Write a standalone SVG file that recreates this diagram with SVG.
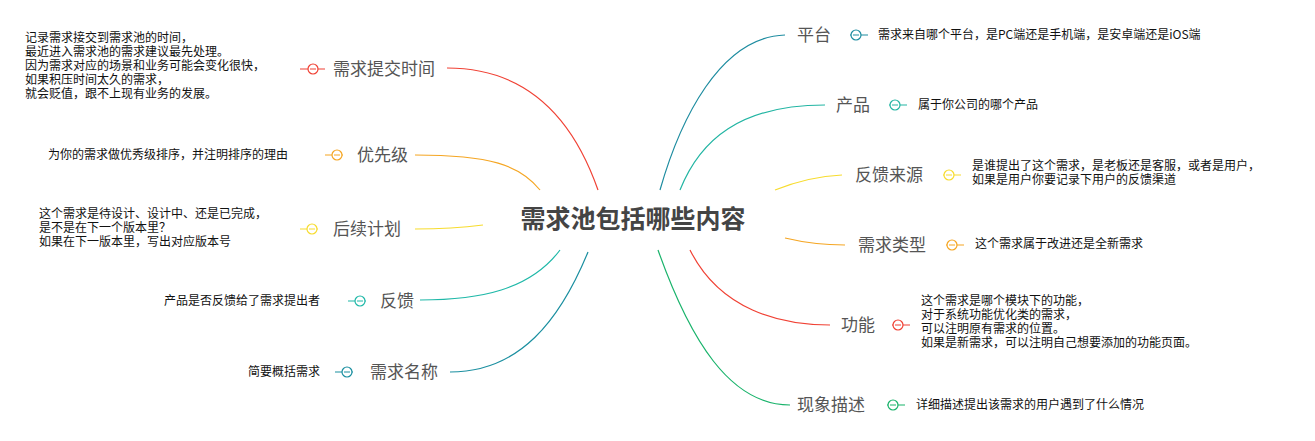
<svg xmlns="http://www.w3.org/2000/svg" width="1315" height="441" viewBox="0 0 1315 441">
<style>
.c{fill:none;stroke-width:1.2}
.t{font-family:"Noto Sans CJK SC","Liberation Sans",sans-serif;font-size:17px;fill:#555}
.d{font-family:"Noto Sans CJK SC","Liberation Sans",sans-serif;font-size:12px;fill:#111}
.k{fill:#fff;stroke-width:1.2}
</style>
<rect width="1315" height="441" fill="#fff"/>
<g id="connectors">
<path class="c" stroke="#f04134" d="M598,190 C570,110 520,68 447,68 M325,69 H300 M310,69 H316"/>
<path class="c" stroke="#f5a623" d="M540,190 C520,165 490,155 415,155 M343,155 H325 M334,155 H340"/>
<path class="c" stroke="#f7dc2e" d="M483,225 C460,228 440,229 415,229 M318,229 H300 M309,229 H315"/>
<path class="c" stroke="#1fb8a8" d="M560,250 C530,290 480,300 420,300 M366,301 H348 M357,301 H363"/>
<path class="c" stroke="#1a8fa0" d="M588,252 C560,320 520,372 450,372 M353,372 H335 M344,372 H350"/>
<path class="c" stroke="#1d8ca0" d="M660,190 C680,120 720,37 785,35 M850,35 H868 M853,35 H859"/>
<path class="c" stroke="#22b5a3" d="M680,190 C700,140 740,105 825,105 M889,105 H907 M892,105 H898"/>
<path class="c" stroke="#f7dc2e" d="M775,190 C800,180 820,176 842,175 M943,175 H961 M946,175 H952"/>
<path class="c" stroke="#f5a623" d="M785,238 C810,244 830,245 845,245 M946,245 H964 M949,245 H955"/>
<path class="c" stroke="#f04134" d="M690,250 C720,310 780,325 830,325 M892,325 H910 M895,325 H901"/>
<path class="c" stroke="#19b36b" d="M658,250 C690,340 730,405 790,405 M887,405 H905 M890,405 H896"/>
</g>
<g id="center"><text x="633" y="228" text-anchor="middle" font-family="Noto Sans CJK SC,sans-serif" font-weight="bold" font-size="25" fill="#444">需求池包括哪些内容</text></g>
<g id="n1"><circle class="k" stroke="#f04134" cx="313" cy="69" r="5"/><line x1="310" y1="69" x2="316" y2="69" stroke="#f04134"/><text class="t" x="333" y="75">需求提交时间</text>
<text class="d" x="25" y="42">记录需求接交到需求池的时间，</text><text class="d" x="25" y="56">最近进入需求池的需求建议最先处理。</text><text class="d" x="25" y="70">因为需求对应的场景和业务可能会变化很快，</text><text class="d" x="25" y="84">如果积压时间太久的需求，</text><text class="d" x="25" y="98">就会贬值，跟不上现有业务的发展。</text></g>
<g id="n2"><circle class="k" stroke="#f5a623" cx="337" cy="155" r="5"/><line x1="334" y1="155" x2="340" y2="155" stroke="#f5a623"/><text class="t" x="357" y="161">优先级</text><text class="d" x="48" y="159">为你的需求做优秀级排序，并注明排序的理由</text></g>
<g id="n3"><circle class="k" stroke="#f7dc2e" cx="312" cy="229" r="5"/><line x1="309" y1="229" x2="315" y2="229" stroke="#f7dc2e"/><text class="t" x="333" y="235">后续计划</text>
<text class="d" x="39" y="218">这个需求是待设计、设计中、还是已完成，</text><text class="d" x="39" y="232">是不是在下一个版本里？</text><text class="d" x="39" y="246">如果在下一版本里，写出对应版本号</text></g>
<g id="n4"><circle class="k" stroke="#1fb8a8" cx="360" cy="301" r="5"/><line x1="357" y1="301" x2="363" y2="301" stroke="#1fb8a8"/><text class="t" x="380" y="307">反馈</text><text class="d" x="164" y="305">产品是否反馈给了需求提出者</text></g>
<g id="n5"><circle class="k" stroke="#1a8fa0" cx="347" cy="372" r="5"/><line x1="344" y1="372" x2="350" y2="372" stroke="#1a8fa0"/><text class="t" x="370" y="378">需求名称</text><text class="d" x="248" y="376">简要概括需求</text></g>
<g id="n6"><text class="t" x="797" y="41">平台</text><circle class="k" stroke="#1d8ca0" cx="856" cy="35" r="5"/><line x1="853" y1="35" x2="859" y2="35" stroke="#1d8ca0"/><text class="d" x="878" y="39">需求来自哪个平台，是PC端还是手机端，是安卓端还是iOS端</text></g>
<g id="n7"><text class="t" x="836" y="111">产品</text><circle class="k" stroke="#22b5a3" cx="895" cy="105" r="5"/><line x1="892" y1="105" x2="898" y2="105" stroke="#22b5a3"/><text class="d" x="918" y="109">属于你公司的哪个产品</text></g>
<g id="n8"><text class="t" x="855" y="181">反馈来源</text><circle class="k" stroke="#f7dc2e" cx="949" cy="175" r="5"/><line x1="946" y1="175" x2="952" y2="175" stroke="#f7dc2e"/><text class="d" x="972" y="170">是谁提出了这个需求，是老板还是客服，或者是用户，</text><text class="d" x="972" y="184">如果是用户你要记录下用户的反馈渠道</text></g>
<g id="n9"><text class="t" x="858" y="251">需求类型</text><circle class="k" stroke="#f5a623" cx="952" cy="245" r="5"/><line x1="949" y1="245" x2="955" y2="245" stroke="#f5a623"/><text class="d" x="975" y="248">这个需求属于改进还是全新需求</text></g>
<g id="n10"><text class="t" x="841" y="331">功能</text><circle class="k" stroke="#f04134" cx="898" cy="325" r="5"/><line x1="895" y1="325" x2="901" y2="325" stroke="#f04134"/><text class="d" x="921" y="305">这个需求是哪个模块下的功能，</text><text class="d" x="921" y="319">对于系统功能优化类的需求，</text><text class="d" x="921" y="333">可以注明原有需求的位置。</text><text class="d" x="921" y="347">如果是新需求，可以注明自己想要添加的功能页面。</text></g>
<g id="n11"><text class="t" x="797" y="411">现象描述</text><circle class="k" stroke="#19b36b" cx="893" cy="405" r="5"/><line x1="890" y1="405" x2="896" y2="405" stroke="#19b36b"/><text class="d" x="916" y="409">详细描述提出该需求的用户遇到了什么情况</text></g>
</svg>
